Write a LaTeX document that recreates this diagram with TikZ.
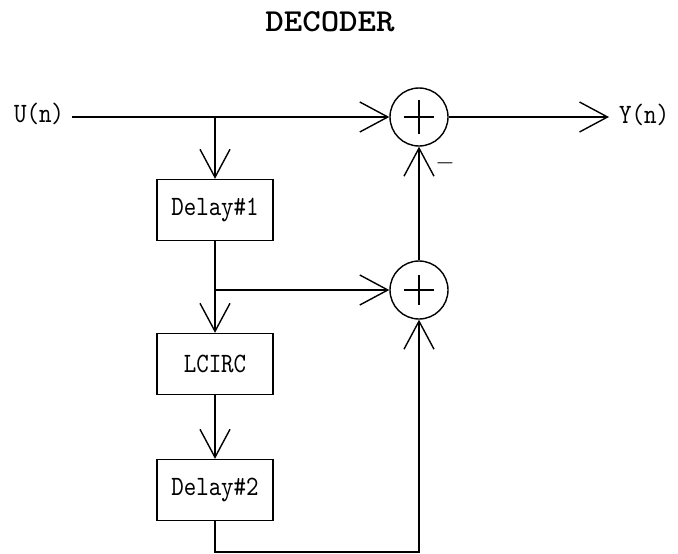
\documentclass[tikz,border=0pt]{standalone}
\usepackage{fontspec}
\usetikzlibrary{arrows.meta}
\newfontfamily\labelfont[FakeStretch=0.85]{lmmono10-regular.otf}
\newfontfamily\titlefont[FakeStretch=1.1]{lmmonolt10-bold.otf}
\begin{document}
\begin{tikzpicture}[x=1pt,y=-1pt,
  line width=1.4pt,
  vee/.style={-{Straight Barb[length=28pt,width=30pt,line width=1.4pt]}},
  blockbox/.style={draw,minimum width=116pt,minimum height=61pt,inner sep=0pt,
    font=\labelfont\fontsize{28}{30}\selectfont},
  sumnode/.style={draw,circle,minimum size=58pt,inner sep=0pt},
  lbl/.style={inner sep=0pt,font=\labelfont\fontsize{28}{30}\selectfont}]
\useasboundingbox (0,0) rectangle (678,554);
\node[inner sep=0pt,font=\titlefont\fontsize{32}{34}\selectfont] (title) at (330,22) {DECODER};
\node[lbl] (u) at (39,114) {U(n)};
\node[lbl] (y) at (644,115) {Y(n)};
\node[sumnode] (s1) at (419,117) {};
\node[sumnode] (s2) at (419,290) {};
\node[blockbox] (d1) at (215,210) {Delay\#1};
\node[blockbox] (lc) at (215,364) {LCIRC};
\node[blockbox] (d2) at (215,490) {Delay\#2};
\node[inner sep=0pt,font=\fontsize{28}{30}\selectfont] (minus) at (445,163) {$-$};
\coordinate (ustart) at (72,117);
\coordinate (yend) at (609,117);
\coordinate (b1) at (215,117);
\coordinate (b2) at (215,290);
\coordinate (c1) at (215,552);
\coordinate (c2) at (419,552);
% plus signs
\draw (s1.center) ++(-15,0) -- ++(30,0);
\draw (s1.center) ++(0,-17) -- ++(0,34);
\draw[line width=1.1pt] (s2.center) ++(-15,0) -- ++(30,0);
\draw[line width=1.1pt] (s2.center) ++(0,-15) -- ++(0,30);
% connectors
\draw[vee] (ustart) -- (s1.west);
\draw[vee] (b1) -- (d1.north);
\draw[vee] (d1.south) -- (lc.north);
\draw[vee] (b2) -- (s2.west);
\draw[vee] (lc.south) -- (d2.north);
\draw[vee] (s2.north) -- (s1.south);
\draw[vee] (s1.east) -- (yend);
\draw[vee] (d2.south) -- (c1) -- (c2) -- (s2.south);
\end{tikzpicture}
\end{document}
